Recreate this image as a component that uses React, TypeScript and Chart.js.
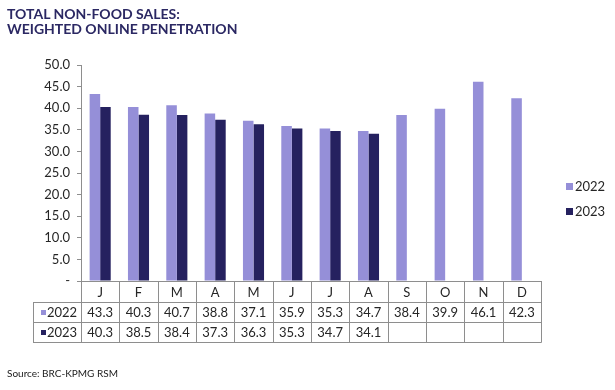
import React, { useEffect, useRef } from "react";
import { Chart, registerables } from "chart.js";

Chart.register(...registerables);

const months = ["J", "F", "M", "A", "M", "J", "J", "A", "S", "O", "N", "D"];
const seriesNames = ["2022", "2023"];
const values2022 = [43.3, 40.3, 40.7, 38.8, 37.1, 35.9, 35.3, 34.7, 38.4, 39.9, 46.1, 42.3];
const values2023: (number | null)[] = [40.3, 38.5, 38.4, 37.3, 36.3, 35.3, 34.7, 34.1, null, null, null, null];
const seriesColors = ["#958FD8", "#25215F"];
const yMin = 0;
const yMax = 50;
const yStep = 5;

const FONT = "Lato, 'DejaVu Sans', sans-serif";
const GRID = "#8e8e8e";
const TEXT = "#262626";

const tablePlugin = {
  id: "dataTable",
  afterDraw(chart: any) {
    const { ctx, chartArea } = chart;
    const { left, right, bottom } = chartArea;
    const n = months.length;
    const w = (right - left) / n;
    const labelLeft = 33;
    const r0 = bottom;
    const r1 = bottom + 21;
    const r2 = bottom + 41;
    const r3 = bottom + 61;
    const px = (v: number) => Math.round(v) + 0.5;
    ctx.save();
    ctx.strokeStyle = GRID;
    ctx.lineWidth = 1;
    ctx.beginPath();
    for (const y of [r1, r2, r3]) {
      ctx.moveTo(labelLeft, px(y));
      ctx.lineTo(right + 0.5, px(y));
    }
    for (let i = 0; i <= n; i++) {
      const x = px(left + i * w);
      ctx.moveTo(x, r0);
      ctx.lineTo(x, px(r3));
    }
    ctx.moveTo(px(labelLeft), px(r1));
    ctx.lineTo(px(labelLeft), px(r3));
    ctx.stroke();

    ctx.fillStyle = TEXT;
    ctx.font = `13px ${FONT}`;
    ctx.textAlign = "center";
    ctx.textBaseline = "middle";
    const rows = [values2022, values2023];
    for (let i = 0; i < n; i++) {
      const cx = left + (i + 0.5) * w;
      ctx.fillText(months[i], cx, (r0 + r1) / 2 + 1);
      rows.forEach((vals, k) => {
        const v = vals[i];
        if (v != null) {
          const ry = k === 0 ? (r1 + r2) / 2 : (r2 + r3) / 2;
          ctx.fillText(v.toFixed(1), cx, ry + 1);
        }
      });
    }
    ctx.textAlign = "left";
    seriesNames.forEach((name, k) => {
      const ry = k === 0 ? (r1 + r2) / 2 : (r2 + r3) / 2;
      ctx.fillStyle = seriesColors[k];
      ctx.fillRect(41, ry - 2, 5, 5);
      ctx.fillStyle = TEXT;
      ctx.fillText(name, 47, ry + 1);
    });

    // legend
    seriesNames.forEach((name, k) => {
      const cy = 186 + k * 25;
      ctx.fillStyle = seriesColors[k];
      ctx.fillRect(566, cy - 3, 7, 7);
      ctx.fillStyle = TEXT;
      ctx.fillText(name, 575, cy + 1);
    });
    ctx.restore();
  },
};

export default function App() {
  const ref = useRef<HTMLCanvasElement>(null);
  useEffect(() => {
    if (!ref.current) return;
    const chart = new Chart(ref.current, {
      type: "bar",
      data: {
        labels: months,
        datasets: [
          { label: seriesNames[0], data: values2022, backgroundColor: seriesColors[0], categoryPercentage: 0.55, barPercentage: 1 },
          { label: seriesNames[1], data: values2023, backgroundColor: seriesColors[1], categoryPercentage: 0.55, barPercentage: 1 },
        ],
      },
      options: {
        responsive: false,
        animation: false,
        layout: { padding: { top: 65, bottom: 109, left: 0, right: 74 } },
        plugins: { legend: { display: false }, title: { display: false }, tooltip: { enabled: false } },
        scales: {
          x: {
            grid: { display: false },
            ticks: { display: false },
            border: { display: true, color: GRID },
            afterFit: (s: any) => {
              s.height = 0;
            },
          },
          y: {
            min: yMin,
            max: yMax,
            ticks: {
              stepSize: yStep,
              color: TEXT,
              font: { family: FONT, size: 13 },
              padding: 7,
              callback: (v: any) => (Number(v) === 0 ? "-" : Number(v).toFixed(1)),
            },
            grid: { drawOnChartArea: false, drawTicks: true, tickLength: 4, color: GRID },
            border: { color: GRID },
            afterFit: (s: any) => {
              s.width = 81;
            },
          },
        },
      },
      plugins: [tablePlugin],
    });
    return () => chart.destroy();
  }, []);

  return (
    <div style={{ position: "absolute", left: 0, top: 0, width: 615, height: 390, background: "#fff", overflow: "hidden" }}>
      <canvas ref={ref} width={615} height={390} style={{ display: "block" }} />
      <div
        style={{
          position: "absolute",
          left: 7,
          top: 6,
          fontFamily: FONT,
          fontWeight: 700,
          fontSize: 14,
          lineHeight: "15px",
          color: "#2B2863",
        }}
      >
        <div>TOTAL NON-FOOD SALES:</div>
        <div>WEIGHTED ONLINE PENETRATION</div>
      </div>
      <div
        style={{
          position: "absolute",
          left: 7,
          top: 367,
          fontFamily: FONT,
          fontSize: 10,
          color: "#1a1a1a",
        }}
      >
        Source: BRC-KPMG RSM
      </div>
    </div>
  );
}
